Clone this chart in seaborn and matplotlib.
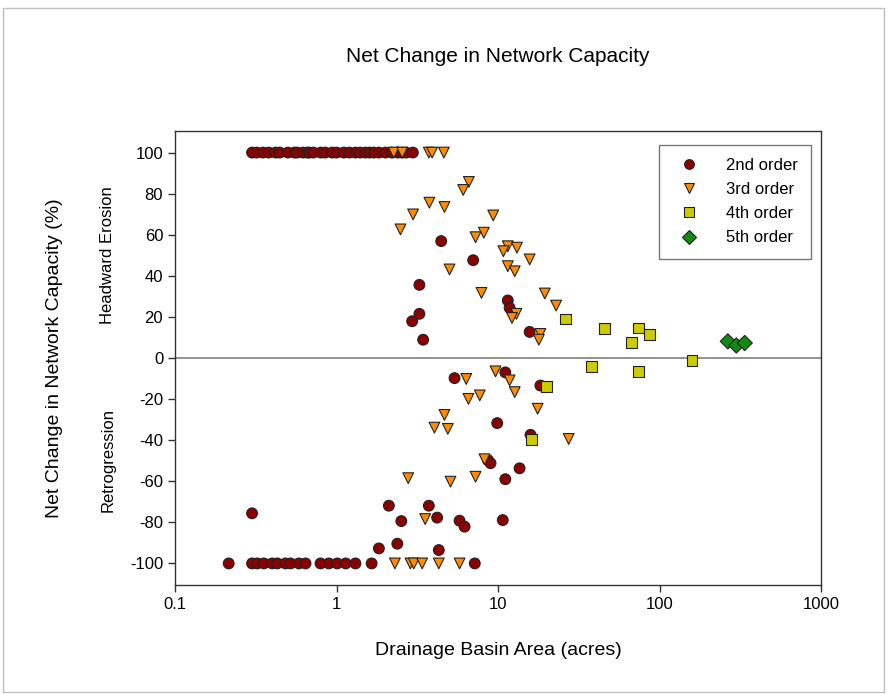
import numpy as np
import pandas as pd
import matplotlib
matplotlib.use("Agg")
import matplotlib.pyplot as plt
import seaborn as sns
from matplotlib.patches import Rectangle

# 2nd order basins
area_2nd = [0.30, 0.32, 0.35, 0.38, 0.42, 0.445, 0.50, 0.55, 0.57, 0.62, 0.66, 0.68, 0.72, 0.80, 0.85, 0.94, 1.0,
            1.11, 1.2, 1.31, 1.4, 1.51, 1.6, 1.7, 1.83, 2.01, 2.2, 2.4, 2.55, 2.7, 2.97,
            0.215, 0.30, 0.323, 0.355, 0.40, 0.43, 0.483, 0.519, 0.585, 0.643, 0.796, 0.896, 1.01, 1.14, 1.31, 1.65, 7.18,
            1.83, 2.38, 4.3, 0.30,
            4.45, 7.02, 3.26, 3.26, 2.94, 3.44, 11.5, 11.8, 15.7,
            5.38, 11.1, 18.3, 9.89, 8.65, 8.99, 13.6, 11.1, 2.11, 3.73, 2.52, 4.2, 5.78, 6.21, 10.7, 15.9]
change_2nd = [100] * 31 + [-100] * 17 + [-92.7, -90.4, -93.5, -75.6,
              56.9, 47.6, 35.6, 21.5, 17.9, 8.9, 28.0, 24.4, 12.7,
              -9.8, -7.0, -13.4, -31.7, -49.6, -51.2, -53.7, -59.0, -71.9, -71.9, -79.4, -77.7, -79.2, -82.1, -78.9, -37.4]

# 3rd order basins
area_3rd = [2.26, 2.55, 3.73, 3.91, 4.62,
            2.30, 2.87, 3.01, 3.39, 4.30, 5.78,
            6.6, 6.09, 3.76, 4.66, 2.98, 9.34, 2.49, 8.17, 7.26, 11.5, 13.1, 10.8, 15.7, 11.5, 12.7, 5.01,
            7.9, 19.5, 22.9, 13.0, 12.2, 18.3, 17.9,
            6.36, 9.65, 11.8, 12.7, 6.56, 7.71, 17.6, 4.66, 4.04, 4.89, 27.4, 8.24, 2.78, 5.08, 7.26, 3.54]
change_3rd = [100] * 5 + [-100] * 6 + [85.7, 81.8, 75.6, 73.5, 69.9, 69.4, 62.6, 61.0, 58.8, 54.4, 53.7, 52.0, 48.0,
              44.7, 42.2, 43.1, 31.7, 31.4, 25.5, 21.5, 19.5, 11.7, 8.9,
              -10.2, -6.5, -10.9, -16.6, -19.9, -18.2, -24.7, -27.7, -33.9, -34.5, -39.4, -49.3, -58.5, -60.2,
              -57.8, -78.4]

# 4th order basins
area_4th = [26.2, 45.6, 73.8, 87.1, 66.8, 37.9, 74.5, 159, 20.0, 16.1]
change_4th = [19.0, 14.3, 14.6, 11.4, 7.6, -4.2, -6.5, -1.3, -13.9, -39.5]

# 5th order basins
area_5th = [265, 299, 337]
change_5th = [8.1, 6.1, 7.3]

orders = ["2nd order", "3rd order", "4th order", "5th order"]
colors = ["#8b0000", "#ff8c00", "#cccc00", "#128a12"]
markers = ["o", "v", "s", "D"]

df = pd.concat([
    pd.DataFrame({"area": area_2nd, "change": change_2nd, "order": orders[0]}),
    pd.DataFrame({"area": area_3rd, "change": change_3rd, "order": orders[1]}),
    pd.DataFrame({"area": area_4th, "change": change_4th, "order": orders[2]}),
    pd.DataFrame({"area": area_5th, "change": change_5th, "order": orders[3]}),
], ignore_index=True)

sns.set_style("ticks")
plt.rcParams["font.family"] = ["Liberation Sans", "DejaVu Sans"]
plt.rcParams["axes.unicode_minus"] = False
plt.rcParams["text.color"] = "black"
plt.rcParams["axes.labelcolor"] = "black"
plt.rcParams["xtick.color"] = "#333333"
plt.rcParams["ytick.color"] = "#333333"
plt.rcParams["xtick.labelcolor"] = "black"
plt.rcParams["ytick.labelcolor"] = "black"

fig = plt.figure(figsize=(8.91, 6.94), dpi=100)
ax = fig.add_axes([175 / 891, 1 - 585 / 694, 646 / 891, 454 / 694])

ax.axhline(0, color="#808080", lw=1.2, zorder=1)
sns.scatterplot(data=df, x="area", y="change", hue="order", style="order",
                palette=dict(zip(orders, colors)), markers=dict(zip(orders, markers)),
                s=60, edgecolor="#222222", linewidth=0.8, ax=ax, zorder=3)

ax.set_xscale("log")
ax.set_xlim(0.1, 1000)
ax.set_ylim(-110.5, 110.5)
ax.set_yticks(np.arange(-100, 101, 20))
ax.set_xticks([0.1, 1, 10, 100, 1000])
ax.set_xticklabels(["0.1", "1", "10", "100", "1000"])
ax.xaxis.set_minor_locator(matplotlib.ticker.NullLocator())
ax.tick_params(axis="both", labelsize=12, length=5, width=1)
for sp in ax.spines.values():
    sp.set_color("#333333")
    sp.set_linewidth(1)

ax.set_xlabel("Drainage Basin Area (acres)", fontsize=14, labelpad=22)
ax.set_ylabel("Net Change in Network Capacity (%)", fontsize=14, labelpad=48)
ax.set_title("Net Change in Network Capacity", fontsize=15, pad=50)

fig.text(108 / 891, 1 - 255 / 694, "Headward Erosion", rotation=90, ha="center", va="center", fontsize=12)
fig.text(108 / 891, 1 - 460 / 694, "Retrogression", rotation=90, ha="center", va="center", fontsize=12)

handles, labels = ax.get_legend_handles_labels()
for h in handles:
    h.set_markersize(7)
leg = ax.legend(handles, labels, loc="upper right", bbox_to_anchor=(0.985, 0.97), fontsize=12,
                frameon=True, fancybox=False, edgecolor="#555555", borderpad=0.8,
                labelspacing=0.55, handletextpad=1.2, borderaxespad=0)
leg.get_frame().set_linewidth(1)

fig.patches.append(Rectangle((0.003, 0.003), 0.989, 0.985, transform=fig.transFigure,
                             fill=False, edgecolor="#c0c0c0", lw=1))

fig.savefig("out.png", dpi=100)
